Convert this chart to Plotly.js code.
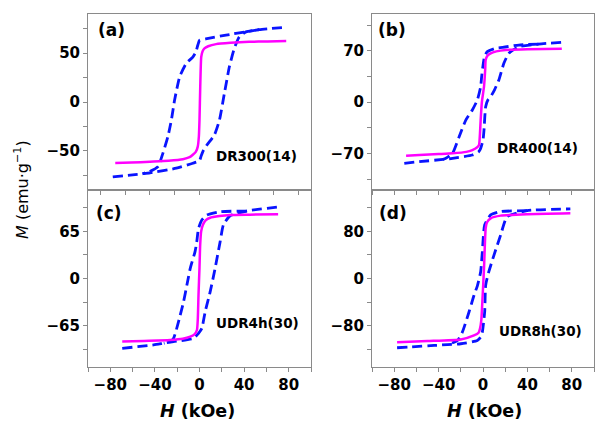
<!DOCTYPE html>
<html>
<head>
<meta charset="utf-8">
<script src="https://cdn.plot.ly/plotly-3.0.1.min.js"></script>
<style>
html,body{margin:0;padding:0;background:#fff;}
#chart{width:595px;height:424px;}
</style>
</head>
<body>
<div id="chart"></div>
<script>
// ---------------- DATA ----------------
// Panel (a) DR300(14)
const pinkA_H = [-68, -55, -40, -25, -13.4, -8, -5.4, -3, -1.4, -0.5, 0, 0.6, 1.4, 2.5, 4, 7, 13.4, 25, 40, 55, 70];
const pinkA_M = [-62.5, -62, -61, -60, -58.5, -56.5, -54, -51, -45.6, -35, -18, 15.6, 46, 52, 54.8, 57, 59.2, 60.5, 61.5, 62, 62.3];
const blueLowA_H = [-70, -54, -46, -40, -18.7, -5.4, 0, 1.4, 2.7, 6, 12, 16.1, 20.1, 24.1, 28.1, 32.1, 37.5, 48.2, 70];
const blueLowA_M = [-76.5, -74.5, -73.4, -72.5, -67.7, -62.6, -60, -55, -50.7, -44, -33.7, -18.4, 8.9, 36, 54.8, 66.6, 71.7, 74, 76.5];
const blueUpA_H = [48.2, 21.4, 5, 0, -1.4, -3, -5.4, -10.7, -16, -20.1, -22.7, -25.5, -29.5, -33.5, -40.2, -46];
const blueUpA_M = [74, 68.4, 64.5, 63, 58, 51, 46, 39.5, 25.8, 2, -18.4, -35.4, -52.3, -66, -71, -73.4];

// Panel (b) DR400(14)
const pinkB_H = [-69.3, -57.4, -40, -27.5, -15, -9.6, -5.5, -3.6, -2.8, -2.1, -1, 0.9, 2, 2.4, 4, 6.9, 12, 20.4, 40, 71];
const pinkB_M = [-73.3, -72.3, -71, -70, -68, -65.5, -62, -58.7, -45, -24.6, 0, 20.9, 45, 57.3, 63, 66.4, 69, 71, 72, 72.5];
const blueLowB_H = [-70.9, -57.4, -36, -27.5, -9.6, -4, -2.1, 0, 0.9, 2.4, 4.5, 6.9, 10.5, 14.3, 18.8, 23.3, 32.3, 50, 71.1];
const blueLowB_M = [-83.6, -81.4, -78.3, -76.8, -72.3, -68, -63.2, -52, -38.2, -6.4, 3, 7.2, 17, 30, 52.8, 66.4, 75.4, 79, 81.4];
const blueUpB_H = [50, 32.3, 20, 11.4, 3.9, 1.5, 0.3, -1.2, -2.1, -5.1, -9.6, -15.5, -21.5, -27.5, -33.5, -36];
const blueUpB_M = [79, 77.7, 75, 73.3, 68.6, 63, 52.8, 35, 20.9, 2.7, -10.9, -24.6, -47.3, -70, -76.8, -78.3];

// Panel (c) UDR4h(30)
const pinkC_H = [-69.3, -50, -26.2, -15, -8.3, -4.5, -2.3, -1.5, -0.9, 0, 0.6, 1.5, 3, 5.5, 9.6, 18, 27.4, 45, 70.5];
const pinkC_M = [-86.8, -86, -84.7, -83, -80.2, -77, -71, -55, -22.7, 15, 46, 65, 73.7, 80, 83.7, 86, 87.5, 88, 88.5];
const blueLowC_H = [-69.3, -41.1, -32, -23.2, -5.4, -0.9, 2.1, 5.1, 9.6, 14, 18.5, 21.4, 27.4, 42.3, 70.5];
const blueLowC_M = [-96.2, -91.6, -89.2, -87, -82.4, -75.5, -68.6, -45.7, -18.2, 14, 50.7, 73.7, 86.5, 93, 98.5];
const blueUpC_H = [42.3, 18.5, 6.6, 2.1, -0.9, -2.5, -4, -8.3, -11.3, -14.3, -18.8, -23.2, -26.2, -32];
const blueUpC_M = [93, 92, 87.5, 80.6, 69, 50, 37, 14, -9, -32, -59.5, -82.4, -87, -89.2];

// Panel (d) UDR8h(30)
const pinkD_H = [-77.4, -50, -20, -8.1, -4, -2.7, -1.5, -0.6, 0.9, 2.4, 3.5, 6.9, 15.9, 39.7, 78.7];
const pinkD_M = [-108, -106, -103.3, -96.5, -92, -85, -70, -39.8, 17, 85, 95, 102, 106.6, 109, 110.6];
const blueLowD_H = [-77.4, -44, -32, -20, -5.1, -2, -0.6, 1.5, 2.4, 5, 9.9, 15.9, 21.8, 39.7, 78.7];
const blueLowD_M = [-117.4, -113.5, -112, -110.6, -105, -99, -91, -56.8, -11.4, 10, 39.7, 73.7, 104.9, 115, 118];
const blueUpD_H = [39.7, 15.9, 6.9, 1.5, -0.6, -2.1, -5, -8.1, -12.6, -18.6, -23, -32];
const blueUpD_M = [115, 113.4, 107.7, 90.7, 45.3, 11.3, -12, -28.4, -56.8, -90.9, -105, -112];

// Tick labels (major ticks); minor ticks sit halfway between
const xTickVals = [-80, -40, 0, 40, 80];
const xTickText = ['\u221280', '\u221240', '0', '40', '80'];
const yTickValsA = [-50, 0, 50];
const yTickTextA = ['\u221250', '0', '50'];
const yTickValsB = [-70, 0, 70];
const yTickTextB = ['\u221270', '0', '70'];
const yTickValsC = [-65, 0, 65];
const yTickTextC = ['\u221265', '0', '65'];
const yTickValsD = [-80, 0, 80];
const yTickTextD = ['\u221280', '0', '80'];

const panelLabels = ['(a)', '(b)', '(c)', '(d)'];
const sampleLabels = ['DR300(14)', 'DR400(14)', 'UDR4h(30)', 'UDR8h(30)'];
const yTitle = '<i>M</i> (emu\u00b7g<sup>\u22121</sup>)';
const xTitle = '<b><i>H</i> (kOe)</b>';

// ---------------- TRACES ----------------
const PINK = '#ff00ff', BLUE = '#0a14ff';
function pink(x, y, xa, ya) {
  return {x: x, y: y, xaxis: xa, yaxis: ya, mode: 'lines', type: 'scatter',
          line: {color: PINK, width: 2.5, shape: 'spline', smoothing: 0.5}, hoverinfo: 'skip'};
}
function blue(x, y, xa, ya) {
  return {x: x, y: y, xaxis: xa, yaxis: ya, mode: 'lines', type: 'scatter',
          line: {color: BLUE, width: 2.8, dash: '10px,5px', shape: 'spline', smoothing: 0.5}, hoverinfo: 'skip'};
}
const data = [
  blue(blueLowA_H, blueLowA_M, 'x', 'y'), blue(blueUpA_H, blueUpA_M, 'x', 'y'), pink(pinkA_H, pinkA_M, 'x', 'y'),
  blue(blueLowB_H, blueLowB_M, 'x2', 'y2'), blue(blueUpB_H, blueUpB_M, 'x2', 'y2'), pink(pinkB_H, pinkB_M, 'x2', 'y2'),
  blue(blueLowC_H, blueLowC_M, 'x3', 'y3'), blue(blueUpC_H, blueUpC_M, 'x3', 'y3'), pink(pinkC_H, pinkC_M, 'x3', 'y3'),
  blue(blueLowD_H, blueLowD_M, 'x4', 'y4'), blue(blueUpD_H, blueUpD_M, 'x4', 'y4'), pink(pinkD_H, pinkD_M, 'x4', 'y4')
];

// ---------------- LAYOUT ----------------
const W = 595, H = 424;
const colL = [88 / W, 311 / W], colR = [372 / W, 594 / W];
const rowT = [(H - 190) / H, (H - 14) / H], rowB = [(H - 367) / H, (H - 190) / H];
const GRAY = '#8a8a8a';
const tickFont = {family: 'DejaVu Sans, Arial, sans-serif', size: 15, color: '#000', weight: 'bold'};

function common(range, vals, text, minorStep, showLabels) {
  return {range: range, tickmode: 'array', tickvals: vals, ticktext: text, showticklabels: showLabels,
          showline: true, mirror: true, linecolor: GRAY, linewidth: 1,
          ticks: 'outside', ticklen: 4, tickwidth: 1, tickcolor: GRAY,
          minor: {tickmode: 'linear', tick0: 0, dtick: minorStep, ticks: 'outside', ticklen: 4, tickwidth: 1, tickcolor: GRAY, showgrid: false},
          showgrid: false, zeroline: false, tickfont: tickFont, fixedrange: true};
}
function xAxis(domain, anchor, range, showLabels) {
  return Object.assign(common(range, xTickVals, xTickText, 20, showLabels), {domain: domain, anchor: anchor});
}
function yAxis(domain, anchor, range, vals, text, minorStep) {
  return Object.assign(common(range, vals, text, minorStep, true), {domain: domain, anchor: anchor});
}

const annFont = {family: 'DejaVu Sans, Arial, sans-serif', color: '#000'};
function ann(text, xpx, ypx, size, xanchor, extra) {
  return Object.assign({text: text, xref: 'paper', yref: 'paper', x: xpx / W, y: (H - ypx) / H,
          xanchor: xanchor, yanchor: 'middle', showarrow: false,
          font: Object.assign({}, annFont, {size: size})}, extra || {});
}

const annotations = [
  ann('<b>' + panelLabels[0] + '</b>', 96, 30, 17, 'left'),
  ann('<b>' + panelLabels[1] + '</b>', 376, 30, 17, 'left'),
  ann('<b>' + panelLabels[2] + '</b>', 94, 213, 17, 'left'),
  ann('<b>' + panelLabels[3] + '</b>', 377, 213, 17, 'left'),
  ann('<b>' + sampleLabels[0] + '</b>', 256, 156, 13.5, 'center'),
  ann('<b>' + sampleLabels[1] + '</b>', 537, 148, 13.5, 'center'),
  ann('<b>' + sampleLabels[2] + '</b>', 257, 323, 13.5, 'center'),
  ann('<b>' + sampleLabels[3] + '</b>', 540, 331, 13.5, 'center'),
  ann(xTitle, 197, 411, 17.5, 'center'),
  ann(xTitle, 484, 411, 17.5, 'center'),
  ann(yTitle, 22, 190, 16, 'center', {textangle: -90})
];

const layout = {
  width: W, height: H, margin: {l: 0, r: 0, t: 0, b: 0},
  paper_bgcolor: '#fff', plot_bgcolor: 'rgba(0,0,0,0)', showlegend: false,
  xaxis:  xAxis(colL, 'y',  [-90, 90], false),
  yaxis:  yAxis(rowT, 'x',  [-90, 90], yTickValsA, yTickTextA, 25),
  xaxis2: xAxis(colR, 'y2', [-100, 100], false),
  yaxis2: yAxis(rowT, 'x2', [-120, 120], yTickValsB, yTickTextB, 35),
  xaxis3: xAxis(colL, 'y3', [-100, 100], true),
  yaxis3: yAxis(rowB, 'x3', [-122, 122], yTickValsC, yTickTextC, 32.5),
  xaxis4: xAxis(colR, 'y4', [-100, 100], true),
  yaxis4: yAxis(rowB, 'x4', [-150, 150], yTickValsD, yTickTextD, 40),
  annotations: annotations
};

Plotly.newPlot('chart', data, layout, {staticPlot: true, displayModeBar: false});
</script>
</body>
</html>
